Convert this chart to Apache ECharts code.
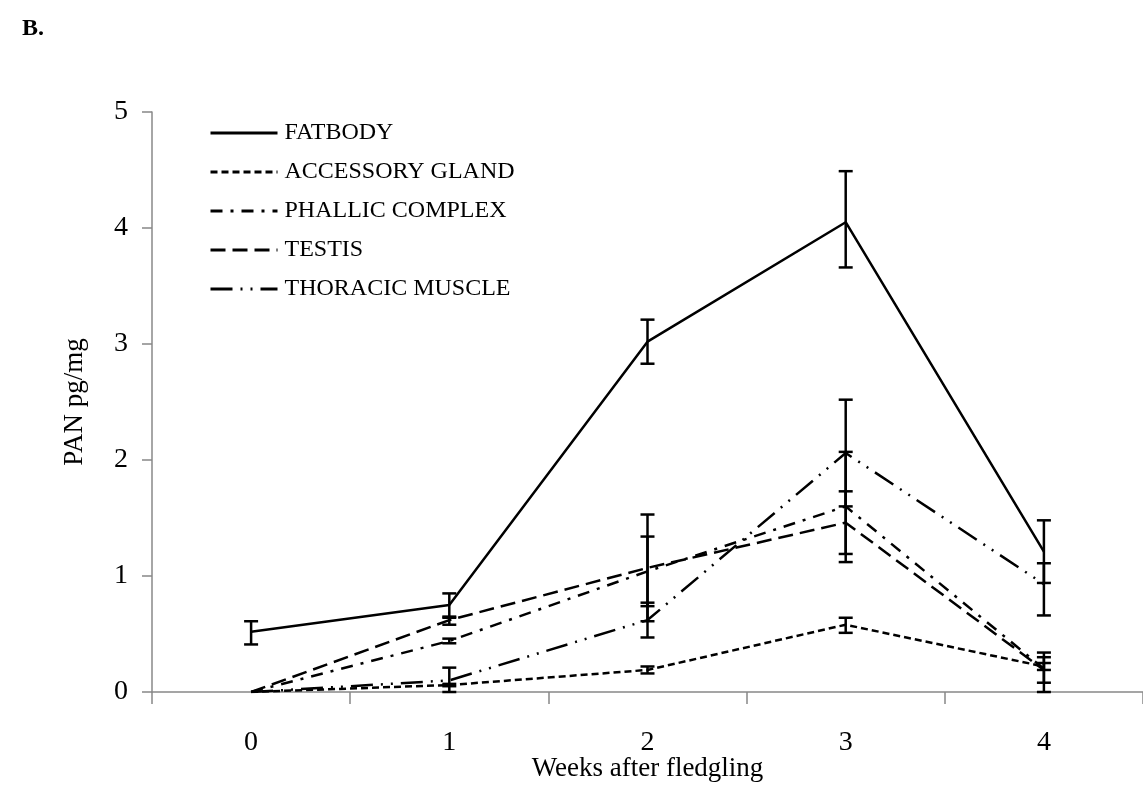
<!DOCTYPE html>
<html>
<head>
<meta charset="utf-8">
<script src="https://cdn.jsdelivr.net/npm/echarts@6/dist/echarts.min.js"></script>
<style>html,body{margin:0;padding:0;background:#fff}#c{width:1143px;height:792px}</style>
</head>
<body>
<div id="c"></div>
<script>
const weeks = ['0', '1', '2', '3', '4'];
const yTicks = [0, 1, 2, 3, 4, 5];
const seriesNames = ['FATBODY', 'ACCESSORY GLAND', 'PHALLIC COMPLEX', 'TESTIS', 'THORACIC MUSCLE'];
const fatbody   = [0.52, 0.75, 3.02, 4.05, 1.21];
const accessory = [0, 0.06, 0.19, 0.58, 0.22];
const phallic   = [0, 0.44, 1.04, 1.60, 0.20];
const testis    = [0, 0.62, 1.07, 1.46, 0.19];
const thoracic  = [0, 0.10, 0.62, 2.06, 0.93];
const fatbodyLow    = [0.41, 0.65, 2.83, 3.66, 0.94];
const fatbodyHigh   = [0.61, 0.85, 3.21, 4.49, 1.48];
const accessoryLow  = [0, 0.05, 0.16, 0.51, 0.19];
const accessoryHigh = [0, 0.07, 0.22, 0.64, 0.25];
const phallicLow    = [0, 0.42, 0.74, 1.12, 0.00];
const phallicHigh   = [0, 0.46, 1.34, 2.07, 0.34];
const testisLow     = [0, 0.58, 0.61, 1.19, 0.08];
const testisHigh    = [0, 0.64, 1.53, 1.73, 0.30];
const thoracicLow   = [0, 0.00, 0.47, 1.60, 0.66];
const thoracicHigh  = [0, 0.21, 0.77, 2.52, 1.11];

const values = [fatbody, accessory, phallic, testis, thoracic];
const lows = [fatbodyLow, accessoryLow, phallicLow, testisLow, thoracicLow];
const highs = [fatbodyHigh, accessoryHigh, phallicHigh, testisHigh, thoracicHigh];
const dashes = ['solid', [7, 4], [12, 8, 3, 8], [15, 7], [22, 8, 2, 8, 2, 8]];

const serif = 'Liberation Serif';
const chart = echarts.init(document.getElementById('c'));

const series = [];
seriesNames.forEach((name, i) => {
  series.push({
    name: name,
    type: 'line',
    data: values[i],
    symbol: 'none',
    lineStyle: { color: '#000', width: 2.5, type: dashes[i] },
    itemStyle: { color: '#000' },
    z: 3
  });
});
seriesNames.forEach((name, i) => {
  const d = [];
  weeks.forEach((w, j) => { if (highs[i][j] > lows[i][j]) d.push([j, lows[i][j], highs[i][j]]); });
  series.push({
    type: 'custom',
    data: d,
    z: 4,
    renderItem: function (params, api) {
      const x = api.value(0);
      const lo = api.coord([x, api.value(1)]);
      const hi = api.coord([x, api.value(2)]);
      const hw = 7;
      const st = { stroke: '#000', lineWidth: 2.5 };
      return {
        type: 'group',
        children: [
          { type: 'line', shape: { x1: lo[0], y1: lo[1], x2: hi[0], y2: hi[1] }, style: st },
          { type: 'line', shape: { x1: lo[0] - hw, y1: lo[1], x2: lo[0] + hw, y2: lo[1] }, style: st },
          { type: 'line', shape: { x1: hi[0] - hw, y1: hi[1], x2: hi[0] + hw, y2: hi[1] }, style: st }
        ]
      };
    }
  });
});

chart.setOption({
  animation: false,
  backgroundColor: '#fff',
  title: {
    text: 'B.', left: 17, top: 12,
    textStyle: { fontFamily: serif, fontSize: 24, fontWeight: 'bold', color: '#000' }
  },
  legend: {
    data: seriesNames,
    orient: 'vertical',
    left: 209, top: 121,
    padding: 0,
    itemWidth: 67, itemHeight: 14, itemGap: 15,
    itemStyle: { color: 'rgba(0,0,0,0)', borderWidth: 0, opacity: 0 },
    lineStyle: { width: 3 },
    textStyle: { fontFamily: serif, fontSize: 24, lineHeight: 24, color: '#000', padding: [0, 0, 0, 2] }
  },
  grid: { left: 152, right: 0, top: 112, bottom: 100, containLabel: false, outerBoundsMode: 'none' },
  xAxis: {
    type: 'category',
    data: weeks,
    boundaryGap: true,
    name: 'Weeks after fledgling',
    nameLocation: 'middle',
    nameGap: 63,
    nameMoveOverlap: false,
    nameTextStyle: { fontFamily: serif, fontSize: 27, color: '#000' },
    axisLine: { lineStyle: { color: '#888', width: 1.5 } },
    axisTick: { show: true, length: 12, alignWithLabel: false, lineStyle: { color: '#888', width: 1.5 } },
    axisLabel: { fontFamily: serif, fontSize: 28, color: '#000', margin: 37 },
    splitLine: { show: false }
  },
  yAxis: {
    type: 'value',
    min: yTicks[0], max: yTicks[yTicks.length - 1], interval: 1,
    name: 'PAN pg/mg',
    nameLocation: 'middle',
    nameGap: 64,
    nameMoveOverlap: false,
    nameTextStyle: { fontFamily: serif, fontSize: 27, color: '#000' },
    axisLine: { show: true, lineStyle: { color: '#888', width: 1.5 } },
    axisTick: { show: true, length: 10, lineStyle: { color: '#888', width: 1.5 } },
    axisLabel: { fontFamily: serif, fontSize: 28, color: '#000', margin: 24 },
    splitLine: { show: false }
  },
  series: series
});
</script>
</body>
</html>
